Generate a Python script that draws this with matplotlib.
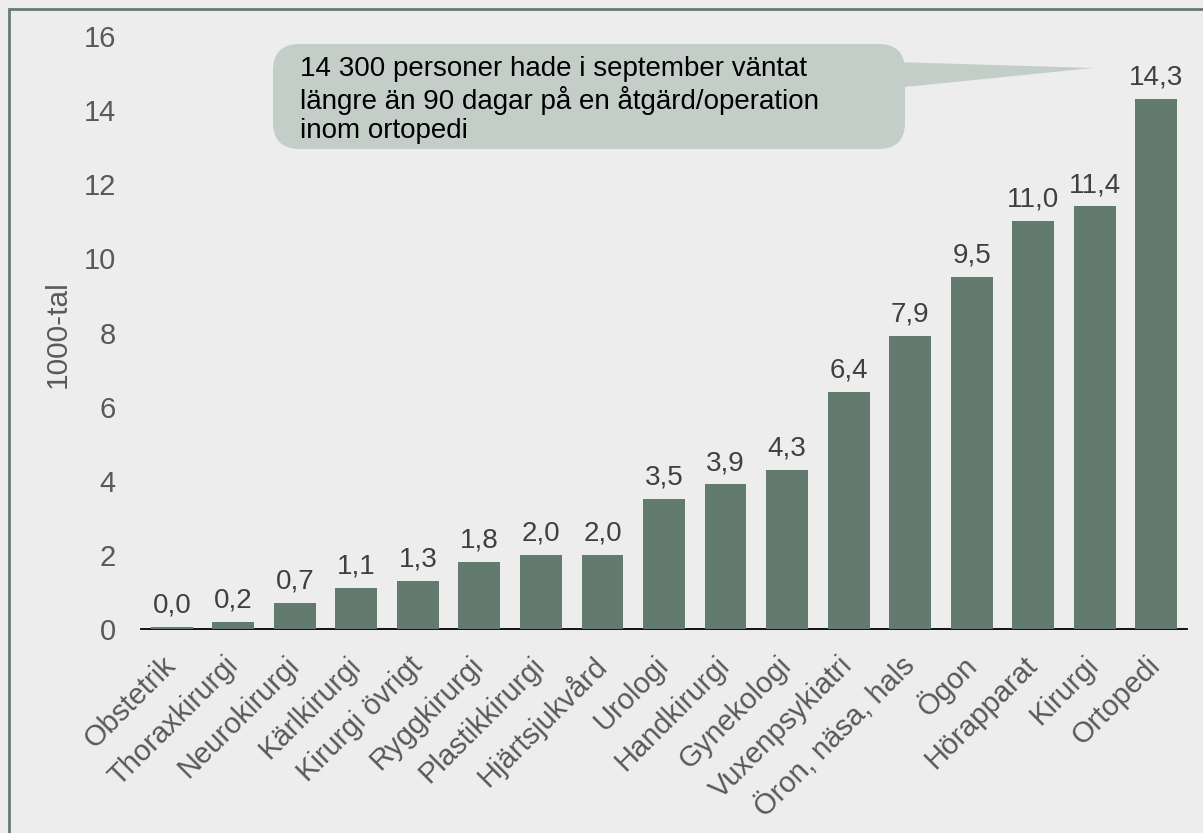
import matplotlib
matplotlib.use("Agg")
import matplotlib.pyplot as plt
from matplotlib.patches import FancyBboxPatch, Polygon, Rectangle

categories = [
    "Obstetrik", "Thoraxkirurgi", "Neurokirurgi", "Kärlkirurgi", "Kirurgi övrigt",
    "Ryggkirurgi", "Plastikkirurgi", "Hjärtsjukvård", "Urologi", "Handkirurgi",
    "Gynekologi", "Vuxenpsykiatri", "Öron, näsa, hals", "Ögon", "Hörapparat",
    "Kirurgi", "Ortopedi",
]
values = [0.045, 0.2, 0.7, 1.1, 1.3, 1.8, 2.0, 2.0, 3.5, 3.9, 4.3, 6.4, 7.9, 9.5, 11.0, 11.4, 14.3]
y_ticks = [0, 2, 4, 6, 8, 10, 12, 14, 16]
callout_text = ("14 300 personer hade i september väntat\n"
                "längre än 90 dagar på en åtgärd/operation\n"
                "inom ortopedi")

plt.rcParams["font.family"] = ["Liberation Sans", "DejaVu Sans"]

bg = "#EDEDED"
bar_color = "#637A6F"
text_gray = "#595959"
W, H = 1203, 833

fig = plt.figure(figsize=(W / 100, H / 100), dpi=100, facecolor=bg)
ax = fig.add_axes([141 / W, 1 - 629 / H, (1187 - 141) / W, (629 - 36) / H])
ax.set_facecolor(bg)

x = list(range(len(categories)))
bars = ax.bar(x, values, width=0.68, color=bar_color, zorder=2)
for bar, v in zip(bars, values):
    ax.annotate(f"{v:.1f}".replace(".", ","),
                (bar.get_x() + bar.get_width() / 2, bar.get_height()),
                xytext=(0, 6), textcoords="offset points",
                ha="center", va="bottom", fontsize=20, color="#404040")

ax.set_xlim(-0.5, len(categories) - 0.5)
ax.set_ylim(0, 16)
ax.set_yticks(y_ticks)
ax.set_yticklabels([str(t) for t in y_ticks])
ax.set_xticks(x)
ax.set_xticklabels(categories, rotation=45, ha="right", va="center",
                   rotation_mode="anchor")
ax.tick_params(axis="y", length=0, pad=18, labelsize=21, labelcolor=text_gray)
ax.tick_params(axis="x", length=0, pad=23, labelsize=21, labelcolor=text_gray)
for side in ["top", "right", "left"]:
    ax.spines[side].set_visible(False)
ax.spines["bottom"].set_color("black")
ax.spines["bottom"].set_linewidth(1.3)
ax.spines["bottom"].set_zorder(1)

fig.text(58 / W, 1 - 334 / H, "1000-tal", rotation=90, ha="center", va="center",
         fontsize=21.5, color=text_gray)

# callout box with pointer towards the Ortopedi bar
def fx(px):
    return px / W

def fy(py):
    return 1 - py / H

callout_color = "#C3CEC8"
box = FancyBboxPatch((fx(273), fy(149)), fx(905) - fx(273), fy(44) - fy(149),
                     boxstyle="round,pad=0,rounding_size=0.022",
                     mutation_aspect=W / H,
                     transform=fig.transFigure, facecolor=callout_color,
                     edgecolor="none", zorder=5)
fig.patches.append(box)
tail = Polygon([(fx(895), fy(62)), (fx(1093), fy(68)), (fx(895), fy(88))],
               closed=True, transform=fig.transFigure, facecolor=callout_color,
               edgecolor="none", zorder=5)
fig.patches.append(tail)
fig.text(fx(300), fy(100), callout_text, ha="left", va="center", fontsize=20,
         color="black", linespacing=1.17, zorder=6)

# frame around the chart
frame = Rectangle((fx(9), fy(H + 20)), 1.1, fy(9) - fy(H + 20),
                  transform=fig.transFigure, fill=False, edgecolor="#667A70",
                  linewidth=2, clip_on=False)
fig.patches.append(frame)

fig.savefig("out.png", dpi=100, facecolor=bg)
